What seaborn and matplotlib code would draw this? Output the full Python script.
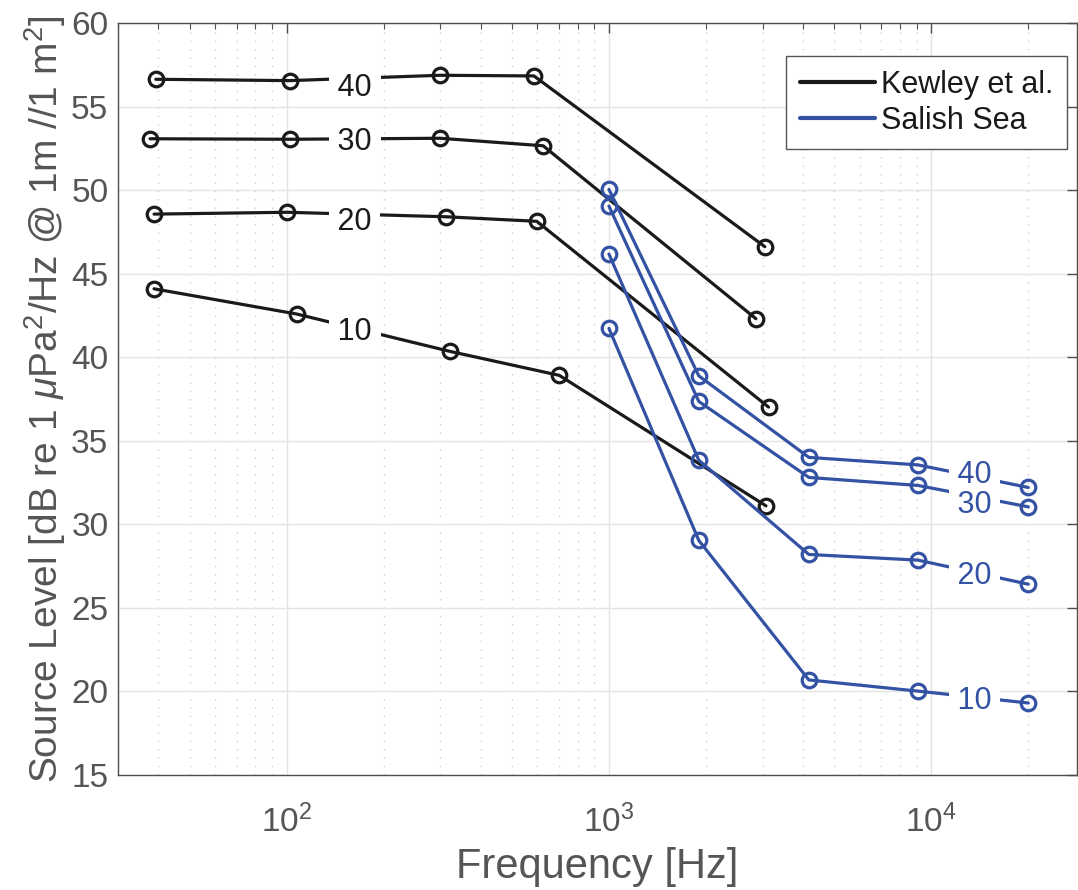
import numpy as np
import pandas as pd
import matplotlib
matplotlib.use("Agg")
import matplotlib.pyplot as plt
import matplotlib.transforms as mtransforms
import seaborn as sns
from matplotlib.lines import Line2D
from matplotlib.ticker import LogLocator, NullFormatter, MultipleLocator

# ---------------- data ----------------
levels = [10, 20, 30, 40]

kewley_freq_10 = [38.8, 107.5, 322, 701, 3070]
kewley_sl_10 = [44.10, 42.59, 40.35, 38.92, 31.11]
kewley_freq_20 = [38.8, 100.6, 313, 597, 3127]
kewley_sl_20 = [48.57, 48.68, 48.41, 48.14, 37.02]
kewley_freq_30 = [37.7, 102.5, 299.5, 625, 2857]
kewley_sl_30 = [53.08, 53.05, 53.11, 52.66, 42.31]
kewley_freq_40 = [39.3, 102.5, 299.5, 585, 3045]
kewley_sl_40 = [56.64, 56.56, 56.88, 56.84, 46.62]

salish_freq = [1000, 1900, 4170, 9100, 20000]
salish_sl_10 = [41.73, 29.04, 20.69, 20.02, 19.31]
salish_sl_20 = [46.18, 33.84, 28.20, 27.86, 26.42]
salish_sl_30 = [49.05, 37.36, 32.81, 32.33, 31.05]
salish_sl_40 = [50.05, 38.89, 34.01, 33.56, 32.21]

sources = ["Kewley et al.", "Salish Sea"]
label_freq = {"Kewley et al.": 163.0, "Salish Sea": 13650.0}

kewley_freqs = [kewley_freq_10, kewley_freq_20, kewley_freq_30, kewley_freq_40]
kewley_sls = [kewley_sl_10, kewley_sl_20, kewley_sl_30, kewley_sl_40]
salish_sls = [salish_sl_10, salish_sl_20, salish_sl_30, salish_sl_40]

rows = []
for lev, fr, sl in zip(levels, kewley_freqs, kewley_sls):
    for f, s in zip(fr, sl):
        rows.append(dict(source=sources[0], level=lev, series=f"K{lev}", freq=f, sl=s))
for lev, sl in zip(levels, salish_sls):
    for f, s in zip(salish_freq, sl):
        rows.append(dict(source=sources[1], level=lev, series=f"S{lev}", freq=f, sl=s))
df = pd.DataFrame(rows)

# ---------------- style ----------------
sns.set_style("white")
plt.rcParams["font.family"] = ["Liberation Sans", "DejaVu Sans"]
plt.rcParams["mathtext.fontset"] = "custom"
plt.rcParams["mathtext.rm"] = "Liberation Sans"
plt.rcParams["mathtext.it"] = "Liberation Sans:italic"

palette = {"Kewley et al.": "#1a1a1a", "Salish Sea": "#3352a3"}
gray = "#555555"

fig = plt.figure(figsize=(10.78, 8.90), dpi=100)
ax = fig.add_axes([0.1095, 0.1292, 0.8895, 0.8448])

sns.lineplot(data=df, x="freq", y="sl", hue="source", units="series",
             estimator=None, sort=False, palette=palette, marker="o",
             markersize=10.5, markerfacecolor="none", markeredgewidth=2.3,
             linewidth=2.3, legend=False, ax=ax, zorder=3)
for ln in ax.lines:
    ln.set_markeredgecolor(ln.get_color())
    ln.set_markerfacecolor("none")

ax.set_xscale("log")
ax.set_xlim(30, 28300)
ax.set_ylim(15, 60)
ax.yaxis.set_major_locator(MultipleLocator(5))
ax.xaxis.set_major_locator(LogLocator(base=10, numticks=10))
ax.xaxis.set_minor_locator(LogLocator(base=10, subs=np.arange(2, 10), numticks=20))
ax.xaxis.set_minor_formatter(NullFormatter())

# inline level labels (small vertical nudges in pixels, like MATLAB clabel)
nudge_px = {("Kewley et al.", 40): -6, ("Kewley et al.", 20): -4,
            ("Salish Sea", 40): 5, ("Salish Sea", 30): -5}
for src, sub in df.groupby("source"):
    for lev in sorted(sub["level"].unique(), reverse=True):
        s = sub[sub["level"] == lev]
        lf = label_freq[src]
        yv = np.interp(np.log10(lf), np.log10(s["freq"].values), s["sl"].values)
        tr = mtransforms.offset_copy(ax.transData, fig=fig,
                                     y=nudge_px.get((src, lev), 0), units="dots")
        # label with surrounding spaces so the white box breaks the line
        ax.text(lf, yv, f" {lev} ", fontsize=22, color=palette[src],
                ha="center", va="center_baseline", zorder=5, transform=tr,
                bbox=dict(facecolor="white", edgecolor="none", pad=0.0))

# grid
ax.set_axisbelow(True)
ax.grid(which="major", color="#e4e4e4", linewidth=1.0, linestyle="-")
ax.grid(which="minor", axis="x", color="#cccccc", linewidth=1.0, linestyle=(0, (1, 5)))

ax.tick_params(which="both", direction="in", top=True, right=True,
               colors="#4d4d4d", labelcolor=gray)
ax.tick_params(which="major", length=7, width=1, labelsize=24)
ax.tick_params(axis="y", which="major", pad=7)
ax.tick_params(axis="x", which="major", pad=21)
ax.tick_params(which="minor", length=4, width=0.8)
for sp in ax.spines.values():
    sp.set_color("#4d4d4d")
    sp.set_linewidth(1.0)

ax.set_xlabel("Frequency [Hz]", fontsize=30, color=gray, labelpad=6)
ax.set_ylabel(r"Source Level [dB re 1 $\mu$Pa$^2$/Hz @ 1m //1 m$^2$]",
              fontsize=28, color=gray, labelpad=2)

handles = [Line2D([], [], color=palette[s], linewidth=3) for s in sources]
leg = ax.legend(handles, sources, loc="upper right",
                bbox_to_anchor=(0.9896, 0.9565), fontsize=22,
                frameon=True, fancybox=False, framealpha=1,
                edgecolor="#555555", handlelength=2.45, handletextpad=0.2,
                borderpad=0.45, labelspacing=0.2, borderaxespad=0)
leg.get_frame().set_linewidth(1.0)
for t in leg.get_texts():
    t.set_color("#1a1a1a")

fig.savefig("out.png", dpi=100, facecolor="white")
